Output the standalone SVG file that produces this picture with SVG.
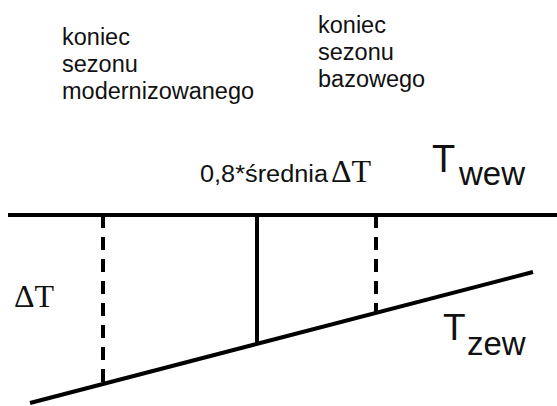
<svg xmlns="http://www.w3.org/2000/svg" width="557" height="406" viewBox="0 0 557 406">
<style>
.lbl{font-family:"Liberation Sans",Arial,sans-serif;font-size:23.5px;fill:#111;}
.sym{font-family:"Liberation Serif","Times New Roman",serif;font-size:32px;fill:#111;}
.big{font-family:"Liberation Sans",Arial,sans-serif;fill:#111;}
.ln{stroke:#000;stroke-width:4;fill:none;}
.dash{stroke:#000;stroke-width:4;fill:none;stroke-dasharray:13 9;}
</style>
<rect width="557" height="406" fill="#fff"/>
<g id="lbl-modern">
<text class="lbl" x="62" y="45">koniec</text>
<text class="lbl" x="62" y="72">sezonu</text>
<text class="lbl" x="62" y="99">modernizowanego</text>
</g>
<g id="lbl-bazowy">
<text class="lbl" x="318" y="33">koniec</text>
<text class="lbl" x="318" y="60">sezonu</text>
<text class="lbl" x="318" y="87">bazowego</text>
</g>
<g id="lbl-srednia">
<text class="lbl" x="200" y="182" font-size="22" textLength="128" lengthAdjust="spacingAndGlyphs">0,8*średnia</text>
<text class="sym" x="331" y="182">ΔT</text>
</g>
<g id="lbl-twew">
<text class="big" x="432" y="172" font-size="38">T</text>
<text class="big" x="459" y="185" font-size="33">wew</text>
</g>
<g id="lbl-dt">
<text class="sym" x="14" y="307">ΔT</text>
</g>
<g id="lbl-tzew">
<text class="big" x="443" y="340" font-size="37">T</text>
<text class="big" x="467" y="355" font-size="33">zew</text>
</g>
<g id="connectors">
<line class="ln" x1="8" y1="215" x2="557" y2="215"/>
<line class="ln" x1="30" y1="403" x2="533" y2="272" stroke-width="5"/>
<line class="dash" x1="103" y1="215" x2="103" y2="384"/>
<line class="ln" x1="257" y1="215" x2="257" y2="344"/>
<line class="dash" x1="376" y1="215" x2="376" y2="313"/>
</g>
</svg>
